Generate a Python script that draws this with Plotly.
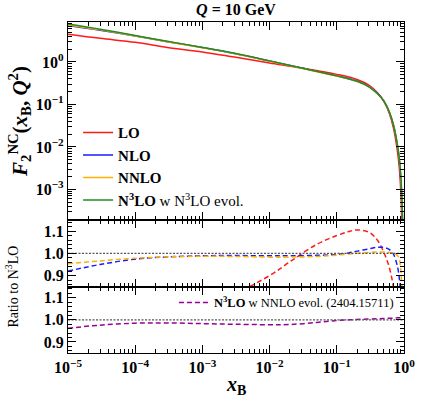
import plotly.graph_objects as go
from plotly.subplots import make_subplots

# main panel: F2 structure function at Q = 10 GeV
x_main = [1e-5, 3e-5, 1e-4, 3e-4, 1e-3, 3e-3, 1e-2, 3e-2, 0.1, 0.2, 0.3, 0.4, 0.5,
          0.6, 0.7, 0.8, 0.85, 0.9, 0.95, 0.98]
f2_lo = [4.5, 3.6, 2.9, 2.2, 1.72, 1.3, 0.95, 0.72, 0.51, 0.387, 0.285, 0.19, 0.12,
         0.064, 0.027, 0.0077, 0.0033, 0.00076, 2.5e-5, 1e-6]
f2_nlo = [7.2, 5.6, 4.1, 3.0, 2.18, 1.58, 1.05, 0.72, 0.47, 0.356, 0.266, 0.185, 0.123,
          0.069, 0.0315, 0.0103, 0.0049, 0.0015, 1.5e-4, 1e-5]
f2_nnlo = [7.45, 5.7, 4.1, 3.0, 2.17, 1.58, 1.04, 0.71, 0.466, 0.35, 0.261, 0.181, 0.121,
           0.068, 0.032, 0.0109, 0.0054, 0.0018, 1.9e-4, 2e-5]
f2_n3lo = [7.8, 5.9, 4.2, 3.05, 2.2, 1.6, 1.06, 0.72, 0.47, 0.35, 0.26, 0.18, 0.12,
           0.068, 0.032, 0.011, 0.0055, 0.0019, 2.5e-4, 3e-5]

# ratio panels
x_ratio = [1e-5, 3e-5, 1e-4, 3e-4, 1e-3, 3e-3, 1e-2, 2e-2, 5e-2, 0.1, 0.15, 0.2, 0.3,
           0.4, 0.5, 0.6, 0.7, 0.8, 0.85, 0.9, 0.95]
r_lo = [0.58, 0.63, 0.69, 0.74, 0.78, 0.82, 0.90, 0.962, 1.04, 1.08, 1.098, 1.105, 1.095,
        1.06, 1.005, 0.94, 0.845, 0.7, 0.6, 0.4, 0.1]
r_nlo = [0.92, 0.95, 0.974, 0.984, 0.989, 0.99, 0.989, 0.989, 0.991, 0.995, 1.002, 1.01,
         1.02, 1.027, 1.027, 1.018, 0.995, 0.94, 0.89, 0.80, 0.6]
r_nnlo = [0.953, 0.966, 0.978, 0.984, 0.987, 0.986, 0.983, 0.983, 0.986, 0.992, 0.997, 1.0,
          1.004, 1.006, 1.006, 1.004, 1.0, 0.99, 0.975, 0.92, 0.7]
r_nnlo_evol = [0.962, 0.976, 0.985, 0.986, 0.983, 0.98, 0.978, 0.979, 0.988, 0.997, 1.0,
               1.002, 1.004, 1.005, 1.006, 1.007, 1.008, 1.009, 1.01, 1.01, 1.012]

x_ticks = [1e-5, 1e-4, 1e-3, 1e-2, 1e-1, 1]
x_ticktext = ["<b>10<sup>−5</sup></b>", "<b>10<sup>−4</sup></b>", "<b>10<sup>−3</sup></b>",
              "<b>10<sup>−2</sup></b>", "<b>10<sup>−1</sup></b>", "<b>10<sup>0</sup></b>"]
y_ticks = [1, 0.1, 0.01, 0.001]
y_ticktext = ["<b>10<sup>0</sup></b>", "<b>10<sup>−1</sup></b>", "<b>10<sup>−2</sup></b>",
              "<b>10<sup>−3</sup></b>"]
x_minor = [m * 10.0 ** k for k in range(-5, 0) for m in range(2, 10)]
y_minor = [m * 10.0 ** k for k in range(-4, 1) for m in range(2, 10)]

FONT = "Liberation Serif"
colors = {"LO": "#ff1a1a", "NLO": "#1a1aff", "NNLO": "#ffb000", "N3LO": "#228b22"}

fig = make_subplots(rows=3, cols=1, shared_xaxes=True, vertical_spacing=0)

main_series = [
    ("<b>LO</b>", f2_lo, colors["LO"]),
    ("<b>NLO</b>", f2_nlo, colors["NLO"]),
    ("<b>NNLO</b>", f2_nnlo, colors["NNLO"]),
    ("<b>N<sup>3</sup>LO</b> w N<sup>3</sup>LO evol.", f2_n3lo, colors["N3LO"]),
]
for name, ys, col in main_series:
    fig.add_trace(go.Scatter(x=x_main, y=ys, name=name, mode="lines", line_shape="spline",
                             line=dict(color=col, width=1.5), legend="legend"), row=1, col=1)

for ys, col in [(r_lo, colors["LO"]), (r_nlo, colors["NLO"]), (r_nnlo, colors["NNLO"])]:
    fig.add_trace(go.Scatter(x=x_ratio, y=ys, mode="lines", line_shape="spline", showlegend=False,
                             line=dict(color=col, width=1.5, dash="5px,3px")), row=2, col=1)

fig.add_trace(go.Scatter(x=x_ratio, y=r_nnlo_evol, mode="lines", line_shape="spline",
                         name="<b>N<sup>3</sup>LO</b> w NNLO evol. (2404.15711)",
                         line=dict(color="#990099", width=1.5, dash="5px,3px"),
                         legend="legend2"), row=3, col=1)

for r in (2, 3):
    fig.add_trace(go.Scatter(x=[1e-5, 1], y=[1, 1], mode="lines", showlegend=False,
                             line=dict(color="#555555", width=1.2, dash="2px,1.5px")), row=r, col=1)

axis_common = dict(showline=True, linecolor="black", linewidth=1.3, mirror="allticks",
                   ticks="inside", tickcolor="black", showgrid=False, zeroline=False,
                   ticklen=8, tickwidth=1.3, automargin=False,
                   tickfont=dict(family=FONT, size=16, color="black"))

for r in (1, 2, 3):
    fig.update_xaxes(type="log", range=[-5, 0], tickmode="array", tickvals=x_ticks,
                     ticktext=x_ticktext,
                     minor=dict(ticks="inside", ticklen=4, tickcolor="black", tickwidth=1,
                                tickmode="array", tickvals=x_minor),
                     showticklabels=(r == 3), **axis_common, row=r, col=1)

fig.update_yaxes(type="log", range=[-3.72, 0.94], tickmode="array", tickvals=y_ticks,
                 ticktext=y_ticktext,
                 minor=dict(ticks="inside", ticklen=4, tickcolor="black", tickwidth=1,
                            tickmode="array", tickvals=y_minor),
                 domain=[0.4018, 1.0], **axis_common, row=1, col=1)
for r, dom in ((2, [0.2003, 0.4018]), (3, [0.0, 0.2003])):
    fig.update_yaxes(range=[0.85, 1.15], tickvals=[0.9, 1.0, 1.1],
                     ticktext=["<b>0.9</b>", "<b>1.0</b>", "<b>1.1</b>"],
                     minor=dict(ticks="inside", ticklen=4, tickcolor="black", tickwidth=1,
                                dtick=0.02),
                     domain=dom, **axis_common, row=r, col=1)

fig.update_yaxes(title=dict(text="<b><i>F</i><sub>2</sub><sup>NC</sup>(<i>x</i><sub>B</sub>, "
                                 "<i>Q</i><sup>2</sup>)</b>",
                            font=dict(family=FONT, size=21, color="black"), standoff=2),
                 row=1, col=1)

fig.add_annotation(text="<b><i>x</i><sub>B</sub></b>", xref="paper", yref="paper",
                   x=0.5, y=-0.097, yanchor="middle", showarrow=False,
                   font=dict(family=FONT, size=20, color="black"))
fig.add_annotation(text="Ratio to N<sup>3</sup>LO", xref="paper", yref="paper",
                   x=-0.167, y=0.2003, xanchor="center", yanchor="middle", textangle=-90,
                   showarrow=False, font=dict(family=FONT, size=14, color="black"))

fig.update_layout(
    width=421, height=399,
    margin=dict(l=68, r=17, t=22, b=46),
    paper_bgcolor="white", plot_bgcolor="white",
    font=dict(family=FONT, color="black"),
    title=dict(text="<b><i>Q</i> = 10 GeV</b>", x=0.5, xref="paper", y=0.99, yanchor="top",
               font=dict(family=FONT, size=16, color="black")),
    legend=dict(x=0.03, y=0.715, xanchor="left", yanchor="top", bgcolor="rgba(0,0,0,0)",
                tracegroupgap=0, itemwidth=30,
                font=dict(family=FONT, size=15, color="black")),
    legend2=dict(x=0.985, y=0.197, xanchor="right", yanchor="top", bgcolor="rgba(0,0,0,0)",
                 itemwidth=30, font=dict(family=FONT, size=12.5, color="black")),
)

fig.write_html("out.html", config={"displayModeBar": False},
               post_script="document.body.style.margin = '0';")
